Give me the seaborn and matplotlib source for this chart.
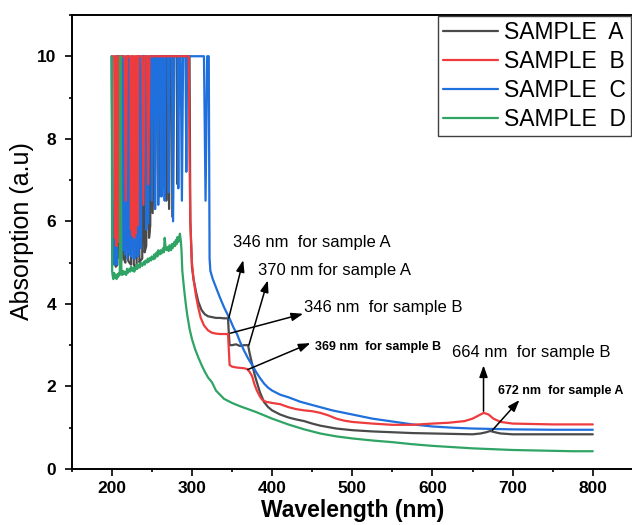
import numpy as np
import pandas as pd
import matplotlib
matplotlib.use("Agg")
import matplotlib.pyplot as plt
from matplotlib.lines import Line2D
from matplotlib.ticker import MultipleLocator
import seaborn as sns

# ---- data (wavelength in nm, absorption in a.u) ----
samples = ["SAMPLE  A", "SAMPLE  B", "SAMPLE  C", "SAMPLE  D"]

wl_a = [200, 201, 203, 205, 207, 208.5, 210, 212, 213.5, 215, 217, 219, 220.5, 222, 224, 226,
        227.5, 229, 231, 233, 234.5, 236, 238, 239.5, 241, 243, 245, 246.5, 248, 249.5, 251,
        252.5, 254, 255.5, 258, 259, 260, 262, 263.5, 265, 267, 268, 269, 270, 271.5, 273,
        275, 276, 277, 281, 282, 283, 297, 298, 300,
        302, 305, 308, 312, 316, 320, 325, 330, 335, 340, 345, 346, 347, 350, 355, 360, 365,
        370, 372, 375, 378, 381, 385, 390, 395, 400, 410, 420, 430, 440, 450, 460, 480, 500,
        525, 550, 575, 600, 625, 650, 660, 667, 672, 678, 685, 700, 725, 750, 775, 800]
abs_a = [10, 5.6, 5.1, 4.9, 4.95, 10, 5.1, 5.05, 10, 5.1, 5.0, 10, 5.05, 5.0, 4.95, 10,
         4.95, 4.9, 4.95, 10, 5.0, 5.05, 5.1, 10, 5.25, 5.4, 10, 5.6, 5.9, 10, 6.2,
         10, 6.3, 10, 10, 6.6, 10, 10, 6.8, 10, 10, 6.5, 10, 10, 6.3, 10,
         10, 6.1, 10, 10, 6.9, 10, 10, 6.0, 4.9,
         4.6, 4.3, 4.05, 3.85, 3.75, 3.7, 3.68, 3.66, 3.66, 3.65, 3.65, 3.3, 3.0, 3.0, 3.02, 2.98, 3.0,
         3.0, 2.8, 2.55, 2.3, 2.1, 1.85, 1.62, 1.5, 1.42, 1.32, 1.25, 1.2, 1.16, 1.1, 1.05, 0.98, 0.94,
         0.91, 0.89, 0.87, 0.86, 0.85, 0.84, 0.86, 0.89, 0.92, 0.89, 0.86, 0.84, 0.84, 0.84, 0.84, 0.84]

wl_b = [200, 203, 204, 205, 206, 207, 208, 209, 210, 211.5, 216, 217.5, 219, 223, 224, 225,
        226, 227, 228, 229, 230, 231, 232, 233, 238, 239.5, 241, 244, 245.5, 247, 296, 297,
        298, 300, 302, 305, 308, 311, 315, 320, 325, 330, 335, 340, 345, 346, 347, 350, 355,
        360, 365, 369, 372, 375, 378, 381, 385, 388, 392, 400, 410, 420, 430, 440, 450, 460,
        470, 480, 490, 500, 525, 550, 575, 600, 620, 640, 650, 658, 664, 670, 676, 685, 700,
        725, 750, 775, 800]
abs_b = [10, 10, 5.6, 10, 5.4, 10, 5.5, 10, 5.6, 10, 10, 6.5, 10, 10, 5.8, 10,
         5.65, 10, 5.6, 10, 5.7, 10, 5.9, 10, 10, 6.4, 10, 10, 6.9, 10, 10, 7.5,
         6.0, 5.0, 4.6, 4.2, 3.9, 3.66, 3.48, 3.36, 3.3, 3.28, 3.27, 3.27, 3.27, 2.9, 2.52, 2.48, 2.46,
         2.45, 2.44, 2.42, 2.35, 2.25, 2.05, 1.9, 1.75, 1.67, 1.63, 1.6, 1.57, 1.5, 1.45, 1.42, 1.4, 1.36,
         1.3, 1.22, 1.17, 1.14, 1.1, 1.07, 1.07, 1.1, 1.12, 1.16, 1.22, 1.3, 1.36, 1.32, 1.22, 1.14, 1.1,
         1.09, 1.08, 1.08, 1.08]

wl_c = [200, 201, 202, 203, 204, 205, 206, 207, 213, 214, 215, 216.5, 218, 219.5, 221, 222,
        224, 225.5, 227, 229, 230.5, 232, 233.5, 235, 236.5, 238, 242, 243, 244, 245.5, 247,
        249, 250, 251, 253, 254, 255, 257, 258, 259, 261, 262, 263, 265, 266, 267, 270, 271,
        272, 275, 276.5, 278, 282, 283, 284, 286, 287.5, 289, 292, 293, 294,
        315, 317, 319, 321, 322, 323, 326, 330, 335, 340, 345, 348, 352, 356, 360,
        365, 370, 375, 380, 385, 390, 395, 400, 410, 420, 435, 450, 475, 500, 525, 550, 575,
        600, 625, 650, 675, 700, 750, 800]
abs_c = [10, 6.5, 5.2, 4.95, 5.0, 10, 4.95, 10, 10, 5.3, 10, 5.2, 10, 5.1, 10, 5.25,
         5.15, 10, 5.1, 5.1, 10, 5.15, 5.2, 10, 5.35, 10, 10, 5.8, 10, 5.95, 10,
         10, 6.5, 10, 10, 6.3, 10, 10, 6.4, 10, 10, 6.6, 10, 10, 6.5, 10, 10, 6.7,
         10, 10, 6.0, 10, 10, 6.8, 10, 10, 6.5, 10, 10, 7.2, 10,
         10, 6.5, 10, 10, 5.1, 4.8, 4.6, 4.4, 4.15, 3.92, 3.72, 3.6, 3.42, 3.28, 3.08,
         2.87, 2.68, 2.52, 2.35, 2.2, 2.07, 1.97, 1.9, 1.8, 1.74, 1.63, 1.55, 1.42, 1.32, 1.22, 1.15, 1.08,
         1.03, 1.0, 0.98, 0.97, 0.96, 0.95, 0.95]

wl_d = [200, 200.5, 201, 202, 203, 204, 205, 206, 207, 208, 209, 210, 211, 212, 213, 214, 215,
        216, 218, 219, 220, 222, 223, 224, 226, 227, 228, 230, 231, 232, 234, 235, 236, 238,
        240, 241, 242, 244, 245, 246, 248, 249, 250, 252, 253, 254, 256, 257, 258, 260, 261,
        262, 264, 265, 266, 267, 268, 270, 271, 272, 274, 275, 276, 278, 279, 280, 281, 282,
        283, 284, 285, 286, 287, 288, 290, 292, 294, 297, 300, 304, 308, 312, 316, 320, 325,
        330, 340, 350, 360, 380, 400, 420, 440, 460, 480, 500, 525, 550, 575, 600, 625, 650,
        675, 700, 725, 750, 775, 800]
abs_d = [10, 4.8, 4.7, 4.6, 4.75, 4.65, 4.7, 4.6, 4.72, 4.65, 4.75, 4.7, 10, 4.8, 4.7, 4.8, 4.72,
         4.78, 4.7, 4.85, 4.75, 4.85, 4.78, 4.9, 4.8, 4.88, 4.78, 4.85, 4.95, 4.85, 4.95, 4.88, 5.0, 4.92,
         5.02, 4.95, 5.05, 5.0, 5.1, 5.02, 5.12, 5.05, 5.15, 5.08, 5.2, 5.1, 5.25, 5.15, 5.3, 5.2, 5.3,
         5.22, 5.35, 5.25, 5.6, 5.4, 5.3, 5.38, 5.28, 5.42, 5.3, 5.45, 5.35, 5.5, 5.4, 5.55, 5.45, 5.62,
         5.5, 5.6, 5.7, 5.55, 5.3, 4.8, 4.4, 4.05, 3.75, 3.4, 3.15, 2.9, 2.7, 2.52, 2.36, 2.22, 2.1,
         1.9, 1.7, 1.6, 1.52, 1.38, 1.22, 1.08, 0.96, 0.86, 0.79, 0.74, 0.69, 0.65, 0.6, 0.56, 0.53, 0.5,
         0.48, 0.46, 0.45, 0.44, 0.43, 0.43]

colors = ["#4a4a4a", "#ee3b3d", "#1f6fdc", "#2fa464"]
palette = dict(zip(samples, colors))
draw_order = [samples[0], samples[2], samples[1], samples[3]]

frames = []
for name, wl, ab in zip(samples, [wl_a, wl_b, wl_c, wl_d], [abs_a, abs_b, abs_c, abs_d]):
    frames.append(pd.DataFrame({"wavelength": wl, "absorption": ab, "sample": name}))
df = pd.concat(frames, ignore_index=True)

# ---- style ----
sns.set_theme(style="ticks")
plt.rcParams["font.family"] = ["Liberation Sans", "DejaVu Sans"]
plt.rcParams["text.color"] = "black"
plt.rcParams["axes.labelcolor"] = "black"

fig = plt.figure(figsize=(6.32, 5.25), dpi=100)
ax = fig.add_axes([0.1134, 0.1067, 0.888, 0.8648])

sns.lineplot(data=df, x="wavelength", y="absorption", hue="sample", hue_order=draw_order,
             palette=palette, estimator=None, sort=False, linewidth=1.6, legend=False, ax=ax)

ax.set_xlim(150, 850)
ax.set_ylim(0, 11)
ax.xaxis.set_major_locator(MultipleLocator(100))
ax.xaxis.set_minor_locator(MultipleLocator(50))
ax.yaxis.set_major_locator(MultipleLocator(2))
ax.yaxis.set_minor_locator(MultipleLocator(1))

for side in ["left", "bottom", "top", "right"]:
    ax.spines[side].set_visible(True)
    ax.spines[side].set_linewidth(1.4)
    ax.spines[side].set_color("black")

ax.tick_params(which="major", direction="out", length=5, width=1.2, color="black")
ax.tick_params(which="minor", direction="out", length=2.5, width=1.2, color="black")
ax.tick_params(axis="x", which="major", pad=3.5)
ax.tick_params(axis="y", which="major", pad=6)
ax.tick_params(top=False, right=False, which="both")
for lab in ax.get_xticklabels() + ax.get_yticklabels():
    lab.set_fontsize(12.5)
    lab.set_fontweight("bold")
    lab.set_color("black")

ax.set_xlabel("Wavelength (nm)", fontsize=16.5, fontweight="bold", labelpad=2)
ax.set_ylabel("Absorption (a.u)", fontsize=18)
ax.yaxis.set_label_coords(-0.068, 0.524)

# ---- annotations ----
arrow_kw = dict(arrowstyle="-|>,head_length=0.7,head_width=0.25", color="black",
                lw=1.1, shrinkA=0, shrinkB=0, mutation_scale=10)
arrows = [((346, 3.66), (364, 5.06)),
          ((371, 3.0), (394.6, 4.57)),
          ((348, 3.29), (438.7, 3.76)),
          ((369.8, 2.41), (447.8, 3.05)),
          ((663.7, 1.40), (663.7, 2.51)),
          ((674.8, 0.94), (708.5, 1.67))]
for tail, head in arrows:
    ax.annotate("", xy=head, xytext=tail, arrowprops=arrow_kw)

ax.text(350.7, 5.39, "346 nm  for sample A", fontsize=12, va="baseline")
ax.text(381.8, 4.70, "370 nm for sample A", fontsize=12, va="baseline")
ax.text(440.3, 3.80, "346 nm  for sample B", fontsize=12, va="baseline")
ax.text(454, 2.89, "369 nm  for sample B", fontsize=9, fontweight="bold", va="baseline")
ax.text(624.7, 2.71, "664 nm  for sample B", fontsize=12, va="baseline")
ax.text(682, 1.81, "672 nm  for sample A", fontsize=9, fontweight="bold", va="baseline")

# ---- legend (A-D order regardless of drawing order) ----
handles = [Line2D([], [], color=palette[s], lw=1.6) for s in samples]
leg = ax.legend(handles, samples, loc="upper left",
                bbox_to_anchor=(438 / 632, 1 - 16 / 525), bbox_transform=fig.transFigure,
                borderaxespad=0, fontsize=16.5, handlelength=2.4, handletextpad=0.25,
                labelspacing=0.26, borderpad=0.22, fancybox=False, framealpha=1)
leg.get_frame().set_edgecolor("#404040")
leg.get_frame().set_linewidth(1.0)

fig.savefig("out.png", dpi=100)
